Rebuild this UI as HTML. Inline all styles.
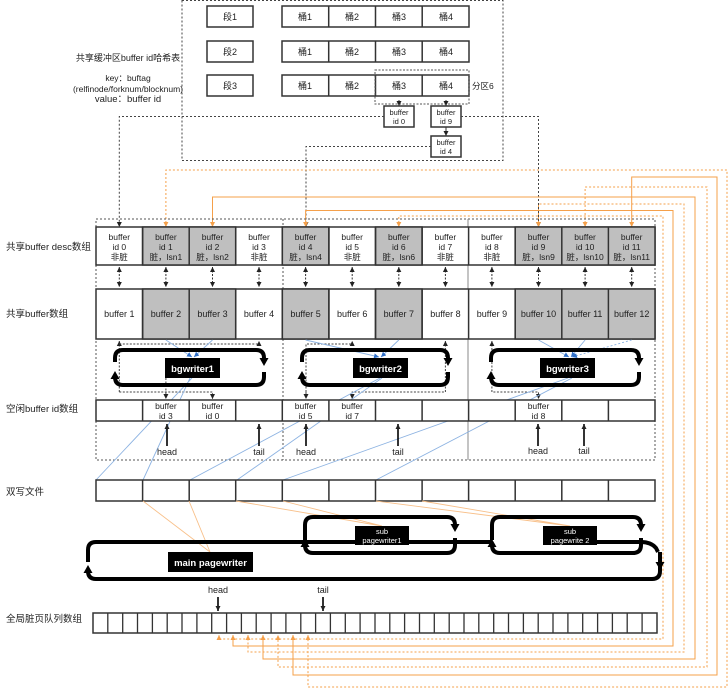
<!DOCTYPE html>
<html><head><meta charset="utf-8"><style>
html,body{margin:0;padding:0;background:#fff}
svg{display:block}
text{font-family:"Liberation Sans","Noto Sans CJK SC",sans-serif;fill:#222}
</style></head><body>
<svg width="728" height="688" viewBox="0 0 728 688" xmlns="http://www.w3.org/2000/svg">
<defs>
<marker id="ak" markerWidth="6" markerHeight="6" refX="5" refY="3" orient="auto-start-reverse" markerUnits="userSpaceOnUse"><path d="M0,0.5 L5,3 L0,5.5z" fill="#222"/></marker>
<marker id="ao" markerWidth="6" markerHeight="6" refX="5" refY="3" orient="auto-start-reverse" markerUnits="userSpaceOnUse"><path d="M0,0.5 L5,3 L0,5.5z" fill="#f5a04a"/></marker>
<marker id="ab" markerWidth="6" markerHeight="6" refX="5" refY="3" orient="auto" markerUnits="userSpaceOnUse"><path d="M0,0.5 L5,3 L0,5.5z" fill="#2f6fc8"/></marker>
<marker id="big" markerWidth="10" markerHeight="10" refX="4" refY="5" orient="auto" markerUnits="userSpaceOnUse"><path d="M0,0.5 L8,5 L0,9.5z" fill="#000"/></marker>
</defs>

<!-- hash table -->
<rect x="182" y="0.5" width="321" height="160" fill="none" stroke="#444" stroke-dasharray="2,2"/>
<g fill="#fff" stroke="#333" stroke-width="1.5">
<rect x="207" y="6" width="46" height="21"/><rect x="207" y="41" width="46" height="21"/><rect x="207" y="75" width="46" height="21"/>
<rect x="282" y="6" width="187" height="21"/><rect x="282" y="41" width="187" height="21"/><rect x="282" y="75" width="187" height="21"/>
</g>
<path d="M328.7,6V27M375.5,6V27M422.2,6V27M328.7,41V62M375.5,41V62M422.2,41V62M328.7,75V96M375.5,75V96M422.2,75V96" stroke="#333" stroke-width="1.5"/>
<g font-size="9" text-anchor="middle">
<text x="230" y="20">段1</text><text x="230" y="55">段2</text><text x="230" y="89">段3</text>
<text x="305" y="20">桶1</text><text x="352" y="20">桶2</text><text x="399" y="20">桶3</text><text x="446" y="20">桶4</text>
<text x="305" y="55">桶1</text><text x="352" y="55">桶2</text><text x="399" y="55">桶3</text><text x="446" y="55">桶4</text>
<text x="305" y="89">桶1</text><text x="352" y="89">桶2</text><text x="399" y="89">桶3</text><text x="446" y="89">桶4</text>
</g>
<rect x="375" y="70" width="94" height="34" fill="none" stroke="#555" stroke-dasharray="2,1.5"/>
<text x="472" y="89" font-size="8.5">分区6</text>
<g font-size="9" text-anchor="middle">
<text x="128" y="61">共享缓冲区buffer id哈希表</text>
<text x="128" y="81" font-size="8.5">key：buftag</text>
<text x="128" y="92" font-size="8.5">(relfinode/forknum/blocknum)</text>
<text x="128" y="102" font-size="9.5">value：buffer id</text>
</g>
<g fill="#fff" stroke="#333" stroke-width="1.5">
<rect x="384" y="106" width="30" height="21"/><rect x="431" y="106" width="30" height="21"/><rect x="431" y="136" width="30" height="21"/>
</g>
<g font-size="7.5" text-anchor="middle">
<text x="399" y="115">buffer</text><text x="399" y="124">id 0</text>
<text x="446" y="115">buffer</text><text x="446" y="124">id 9</text>
<text x="446" y="145">buffer</text><text x="446" y="154">id 4</text>
</g>
<g stroke="#333" marker-end="url(#ak)">
<path d="M399,100V106"/><path d="M446,100V106"/><path d="M446,127V136"/>
</g>
<g fill="none" stroke="#444" stroke-dasharray="2,2">
<path d="M384,116.5H119.3V227" marker-end="url(#ak)"/>
<path d="M461,116.5H538.5V227" marker-end="url(#ak)"/>
<path d="M431,146.5H306V227" marker-end="url(#ak)"/>
</g>

<!-- orange feeders -->
<g fill="none" stroke="#f5a04a" stroke-width="1">
<path d="M165.9,227V170H727V687H308V635" stroke-dasharray="2,2" marker-start="url(#ao)" marker-end="url(#ao)"/>
<path d="M631.7,227V177H717V675H293V635" marker-start="url(#ao)" marker-end="url(#ao)"/>
<path d="M585.1,227V187H707V667H278V635" stroke-dasharray="2,2" marker-start="url(#ao)" marker-end="url(#ao)"/>
<path d="M212.5,227V197H695V659H263V635" marker-start="url(#ao)" marker-end="url(#ao)"/>
<path d="M538.5,227V204H684V652H248V635" stroke-dasharray="2,2" marker-start="url(#ao)" marker-end="url(#ao)"/>
<path d="M305.6,227V210.5H673V646H233V635" marker-start="url(#ao)" marker-end="url(#ao)"/>
<path d="M398.8,227V216H663V639H219V635" stroke-dasharray="2,2" marker-start="url(#ao)" marker-end="url(#ao)"/>
</g>

<!-- group frames -->
<rect x="96" y="219" width="559" height="241" fill="none" stroke="#555" stroke-dasharray="2,2"/>
<path d="M283,219V460" stroke="#555" stroke-dasharray="2,2"/>
<path d="M468,219V460" stroke="#888" stroke-width="1"/>

<!-- desc row -->
<g stroke="#333" stroke-width="1.5">
<rect x="96" y="227" width="559" height="38" fill="#fff"/>
<rect x="142.6" y="227" width="93.1" height="38" fill="#bfbfbf"/>
<rect x="282.3" y="227" width="46.6" height="38" fill="#bfbfbf"/>
<rect x="375.5" y="227" width="46.6" height="38" fill="#bfbfbf"/>
<rect x="515.2" y="227" width="139.8" height="38" fill="#bfbfbf"/>
<path d="M142.6,227v38M189.2,227v38M235.7,227v38M282.3,227v38M328.9,227v38M375.5,227v38M422.1,227v38M468.6,227v38M515.2,227v38M561.8,227v38M608.4,227v38"/>
</g>
<g font-size="8.5" text-anchor="middle">
<text x="119.3" y="240">buffer</text><text x="119.3" y="250">id 0</text><text x="119.3" y="260">非脏</text>
<text x="165.9" y="240">buffer</text><text x="165.9" y="250">id 1</text><text x="165.9" y="260">脏，lsn1</text>
<text x="212.5" y="240">buffer</text><text x="212.5" y="250">id 2</text><text x="212.5" y="260">脏，lsn2</text>
<text x="259" y="240">buffer</text><text x="259" y="250">id 3</text><text x="259" y="260">非脏</text>
<text x="305.6" y="240">buffer</text><text x="305.6" y="250">id 4</text><text x="305.6" y="260">脏，lsn4</text>
<text x="352.2" y="240">buffer</text><text x="352.2" y="250">id 5</text><text x="352.2" y="260">非脏</text>
<text x="398.8" y="240">buffer</text><text x="398.8" y="250">id 6</text><text x="398.8" y="260">脏，lsn6</text>
<text x="445.4" y="240">buffer</text><text x="445.4" y="250">id 7</text><text x="445.4" y="260">非脏</text>
<text x="491.9" y="240">buffer</text><text x="491.9" y="250">id 8</text><text x="491.9" y="260">非脏</text>
<text x="538.5" y="240">buffer</text><text x="538.5" y="250">id 9</text><text x="538.5" y="260">脏，lsn9</text>
<text x="585.1" y="240">buffer</text><text x="585.1" y="250">id 10</text><text x="585.1" y="260">脏，lsn10</text>
<text x="631.7" y="240">buffer</text><text x="631.7" y="250">id 11</text><text x="631.7" y="260">脏，lsn11</text>
</g>
<!-- double arrows -->
<g stroke="#333" stroke-dasharray="2,1.5" marker-start="url(#ak)" marker-end="url(#ak)">
<path d="M119.3,267V287"/><path d="M165.9,267V287"/><path d="M212.5,267V287"/><path d="M259,267V287"/><path d="M305.6,267V287"/><path d="M352.2,267V287"/><path d="M398.8,267V287"/><path d="M445.4,267V287"/><path d="M491.9,267V287"/><path d="M538.5,267V287"/><path d="M585.1,267V287"/><path d="M631.7,267V287"/>
</g>

<!-- buffer row -->
<g stroke="#333" stroke-width="1.5">
<rect x="96" y="289" width="559" height="50" fill="#fff"/>
<rect x="142.6" y="289" width="93.1" height="50" fill="#bfbfbf"/>
<rect x="282.3" y="289" width="46.6" height="50" fill="#bfbfbf"/>
<rect x="375.5" y="289" width="46.6" height="50" fill="#bfbfbf"/>
<rect x="515.2" y="289" width="139.8" height="50" fill="#bfbfbf"/>
<path d="M142.6,289v50M189.2,289v50M235.7,289v50M282.3,289v50M328.9,289v50M375.5,289v50M422.1,289v50M468.6,289v50M515.2,289v50M561.8,289v50M608.4,289v50"/>
</g>
<g font-size="9" text-anchor="middle">
<text x="119.3" y="317">buffer 1</text><text x="165.9" y="317">buffer 2</text><text x="212.5" y="317">buffer 3</text><text x="259" y="317">buffer 4</text>
<text x="305.6" y="317">buffer 5</text><text x="352.2" y="317">buffer 6</text><text x="398.8" y="317">buffer 7</text><text x="445.4" y="317">buffer 8</text>
<text x="491.9" y="317">buffer 9</text><text x="538.5" y="317">buffer 10</text><text x="585.1" y="317">buffer 11</text><text x="631.7" y="317">buffer 12</text>
</g>

<!-- row labels -->
<g font-size="9.5">
<text x="6" y="250">共享buffer desc数组</text>
<text x="6" y="317">共享buffer数组</text>
<text x="6" y="412">空闲buffer id数组</text>
<text x="6" y="495">双写文件</text>
<text x="6" y="622">全局脏页队列数组</text>
</g>

<!-- dashed links around bgwriters -->
<g fill="none" stroke="#444" stroke-dasharray="2,1.5">
<path d="M119.3,392V341" marker-end="url(#ak)"/>
<path d="M119.3,344H259V341" marker-end="url(#ak)"/>
<path d="M119.3,392H212.5V399" marker-end="url(#ak)"/>
<path d="M165.9,378V399" marker-end="url(#ak)"/>
<path d="M306,392V344H352.2V341" marker-end="url(#ak)"/>
<path d="M306,392V399" marker-end="url(#ak)"/>
<path d="M445.4,341V392H352.2V399" marker-end="url(#ak)" marker-start="url(#ak)"/>
<path d="M491.9,341V392H538.5V399" marker-end="url(#ak)" marker-start="url(#ak)"/>
</g>

<!-- blue lines -->
<g fill="none" stroke="#8db3e2" stroke-width="0.9">
<path d="M165.9,340L192,357" marker-end="url(#ab)"/><path d="M212.5,340L194,357" marker-end="url(#ab)"/>
<path d="M305.6,340L379,357" marker-end="url(#ab)"/><path d="M398.8,340L381,357" marker-end="url(#ab)"/>
<path d="M538.5,340L569,357" marker-end="url(#ab)"/><path d="M585.1,340L571,357" marker-end="url(#ab)"/>
<path d="M631.7,340L572,357" stroke-dasharray="2,2" marker-end="url(#ab)"/>
<path d="M192,378L96,480M190,378L143,480M380,378L190,480M382,378L237,480M568,378L283,480M572,378L376,480"/>
</g>

<!-- bgwriter loops -->
<g fill="none" stroke="#000" stroke-width="4">
<path d="M115,362V358Q115,350 123,350H256Q264,350 264,358V362" marker-end="url(#big)"/>
<path d="M264,372V377Q264,385 256,385H123Q115,385 115,377V375" marker-end="url(#big)"/>
<path d="M302,362V358Q302,350 310,350H440Q448,350 448,358V362" marker-end="url(#big)"/>
<path d="M448,372V377Q448,385 440,385H310Q302,385 302,377V375" marker-end="url(#big)"/>
<path d="M491,362V358Q491,350 499,350H631Q639,350 639,358V362" marker-end="url(#big)"/>
<path d="M639,372V377Q639,385 631,385H499Q491,385 491,377V375" marker-end="url(#big)"/>
</g>
<g fill="#000"><rect x="165" y="358" width="55" height="20"/><rect x="353" y="358" width="55" height="20"/><rect x="540" y="358" width="55" height="20"/></g>
<g font-size="9.5" font-weight="bold" text-anchor="middle">
<text x="192.5" y="372" style="fill:#fff">bgwriter1</text>
<text x="380.5" y="372" style="fill:#fff">bgwriter2</text>
<text x="567.5" y="372" style="fill:#fff">bgwriter3</text>
</g>

<!-- free array -->
<g stroke="#333" stroke-width="1.5" fill="#fff">
<rect x="96" y="400" width="559" height="21"/>
<path d="M142.6,400v21M189.2,400v21M235.7,400v21M282.3,400v21M328.9,400v21M375.5,400v21M422.1,400v21M468.6,400v21M515.2,400v21M561.8,400v21M608.4,400v21"/>
</g>
<g font-size="8.5" text-anchor="middle">
<text x="165.9" y="409">buffer</text><text x="165.9" y="419">id 3</text>
<text x="212.5" y="409">buffer</text><text x="212.5" y="419">id 0</text>
<text x="305.6" y="409">buffer</text><text x="305.6" y="419">id 5</text>
<text x="352.2" y="409">buffer</text><text x="352.2" y="419">id 7</text>
<text x="538.5" y="409">buffer</text><text x="538.5" y="419">id 8</text>
</g>
<g stroke="#000" stroke-width="1.6" marker-end="url(#ak)">
<path d="M167,446V424"/><path d="M259,446V424"/><path d="M306,446V424"/><path d="M398,446V424"/><path d="M538,446V424"/><path d="M584,446V424"/>
</g>
<g font-size="9" text-anchor="middle">
<text x="167" y="455">head</text><text x="259" y="455">tail</text><text x="306" y="455">head</text><text x="398" y="455">tail</text><text x="538" y="454">head</text><text x="584" y="454">tail</text>
</g>

<!-- double write -->
<g stroke="#333" stroke-width="1.5" fill="#fff">
<rect x="96" y="480" width="559" height="21"/>
<path d="M142.6,480v21M189.2,480v21M235.7,480v21M282.3,480v21M328.9,480v21M375.5,480v21M422.1,480v21M468.6,480v21M515.2,480v21M561.8,480v21M608.4,480v21"/>
</g>
<g fill="none" stroke="#f8c08a" stroke-width="0.9">
<path d="M143,501L210,552M189,501L210,552M236,501L382,526M283,501L382,526M376,501L570,526M422,501L570,526"/>
</g>

<!-- pagewriter loops -->
<g fill="none" stroke="#000" stroke-width="4">
<path d="M88,562V550Q88,542 96,542H355M409,542H492M597,542H641Q651,542 656,548L658,552" />
<path d="M660,552V571Q660,579 652,579H96Q88,579 88,571V569" marker-end="url(#big)"/>
<path d="M305,540V525Q305,517 313,517H447Q455,517 455,525V528" marker-end="url(#big)"/>
<path d="M455,538V545Q455,553 447,553H313Q305,553 305,545" />
<path d="M492,540V525Q492,517 500,517H633Q641,517 641,525V528" marker-end="url(#big)"/>
<path d="M641,538V545Q641,553 633,553H500Q492,553 492,545" />
<path d="M660,560V566" marker-end="url(#big)"/>
<path d="M305,546V543" marker-end="url(#big)"/>
<path d="M492,546V543" marker-end="url(#big)"/>
</g>
<g fill="#000"><rect x="168" y="552" width="85" height="20"/><rect x="355" y="526" width="54" height="19"/><rect x="543" y="526" width="54" height="19"/></g>
<g text-anchor="middle">
<text x="210.5" y="566" font-size="9.5" font-weight="bold" style="fill:#fff">main pagewriter</text>
<text x="382" y="534" font-size="7.5" style="fill:#fff">sub</text><text x="382" y="543" font-size="7.5" style="fill:#fff">pagewriter1</text>
<text x="570" y="534" font-size="7.5" style="fill:#fff">sub</text><text x="570" y="543" font-size="7.5" style="fill:#fff">pagewrite 2</text>
</g>

<!-- global dirty queue -->
<text x="218" y="593" font-size="9" text-anchor="middle">head</text>
<text x="323" y="593" font-size="9" text-anchor="middle">tail</text>
<g stroke="#000" stroke-width="1.6" marker-end="url(#ak)"><path d="M218,597V611"/><path d="M323,597V611"/></g>
<rect x="93" y="613" width="564" height="20" fill="#fff" stroke="#333" stroke-width="1.5"/>
<path stroke="#333" stroke-width="1.3" d="M107.8,613v20M122.7,613v20M137.5,613v20M152.4,613v20M167.2,613v20M182,613v20M196.9,613v20M211.7,613v20M226.6,613v20M241.4,613v20M256.2,613v20M271.1,613v20M285.9,613v20M300.8,613v20M315.6,613v20M330.4,613v20M345.3,613v20M360.1,613v20M375,613v20M389.8,613v20M404.6,613v20M419.5,613v20M434.3,613v20M449.2,613v20M464,613v20M478.8,613v20M493.7,613v20M508.5,613v20M523.4,613v20M538.2,613v20M553,613v20M567.9,613v20M582.7,613v20M597.6,613v20M612.4,613v20M627.2,613v20M642.1,613v20"/>
</svg>
</body></html>
